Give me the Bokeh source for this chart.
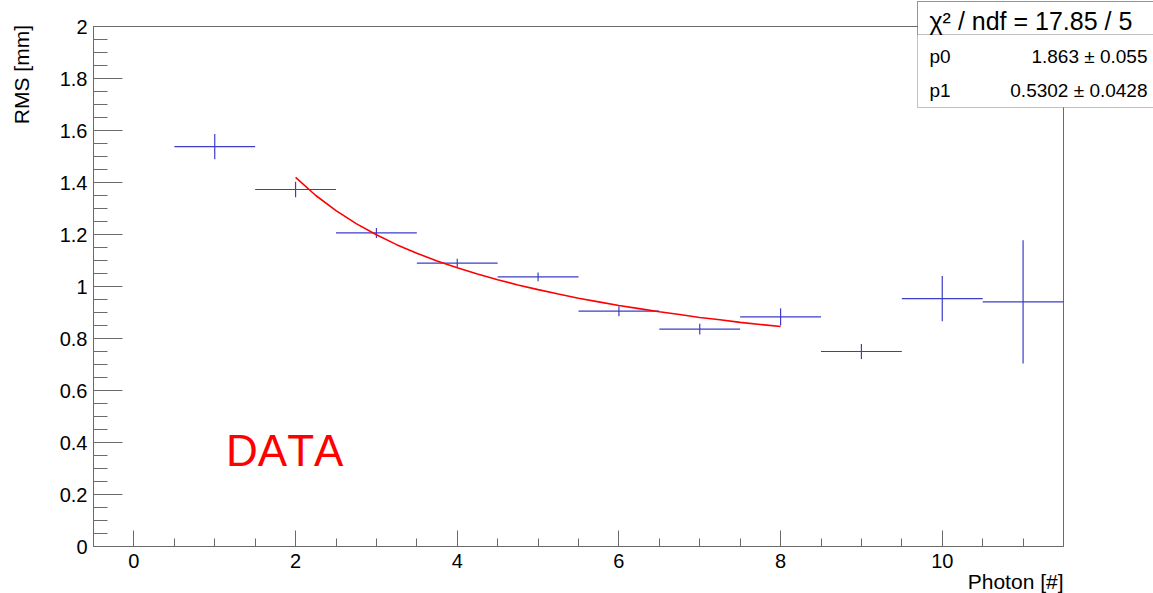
from bokeh.plotting import figure
from bokeh.models import (FixedTicker, Label, BoxAnnotation, Range1d,
                          GlobalInlineStyleSheet, ColumnDataSource)
from bokeh.embed import file_html
from bokeh.resources import INLINE

# ---------------- data ----------------
photons = [1, 2, 3, 4, 5, 6, 7, 8, 9, 10, 11]
bin_half_width = [0.5] * 11
rms = [1.538, 1.373, 1.206, 1.090, 1.037, 0.905, 0.836, 0.883, 0.750, 0.953, 0.941]
rms_err = [0.049, 0.030, 0.019, 0.017, 0.017, 0.019, 0.021, 0.033, 0.029, 0.087, 0.237]

# fit curve
fit_x = [2.0, 2.25, 2.5, 2.75, 3.0, 3.25, 3.5, 3.75, 4.0, 4.25, 4.5, 4.75, 5.0,
         5.25, 5.5, 5.75, 6.0, 6.25, 6.5, 6.75, 7.0, 7.25, 7.5, 7.75, 8.0]
fit_y = [1.420, 1.350, 1.292, 1.242, 1.199, 1.161, 1.128, 1.098, 1.072, 1.048,
         1.026, 1.006, 0.988, 0.971, 0.955, 0.941, 0.927, 0.915, 0.903, 0.892,
         0.881, 0.872, 0.862, 0.854, 0.846]

stats_title = "\u03c7\u00b2 / ndf = 17.85 / 5"
param_names = ["p0", "p1"]
param_values = ["1.863 \u00b1 0.055", "0.5302 \u00b1 0.0428"]

x_ticks = [0, 2, 4, 6, 8, 10]
x_minor = [-0.5 + 0.5 * i for i in range(25)]
y_ticks = [0, 0.2, 0.4, 0.6, 0.8, 1.0, 1.2, 1.4, 1.6, 1.8, 2.0]
y_tick_labels = ["0", "0.2", "0.4", "0.6", "0.8", "1", "1.2", "1.4", "1.6", "1.8", "2"]
y_minor = [0.05 * i for i in range(41)]

# ---------------- layout ----------------
W, H = 1153, 593
FL, FR, FT, FB = 93, 1063, 26, 546          # ROOT frame edges in pixels
XMIN, XMAX, YMIN, YMAX = -0.5, 11.5, 0.0, 2.0
PPX = (FR - FL) / (XMAX - XMIN)
PPY = (FB - FT) / (YMAX - YMIN)


def dx(px):
    return XMIN + (px - FL) / PPX


def dy(py):
    return YMIN + (FB - py) / PPY


FONT = "Liberation Sans"
AXC = "#6a6a6a"

# bokeh frame = whole canvas; axes are pinned at the ROOT frame edges
p = figure(width=W, height=H, output_backend="svg", toolbar_location=None,
           x_range=Range1d(dx(0), dx(W)), y_range=Range1d(dy(H), dy(0)),
           min_border=0, min_border_left=0, min_border_right=0,
           min_border_top=0, min_border_bottom=0)
p.stylesheets = [GlobalInlineStyleSheet(
    css="body{margin:0;overflow:hidden;font-kerning:none;}")]
p.grid.visible = False
p.background_fill_color = "white"
p.border_fill_color = "white"
p.outline_line_color = None

for ax in (p.xaxis[0], p.yaxis[0]):
    ax.axis_line_color = AXC
    ax.major_tick_line_color = AXC
    ax.minor_tick_line_color = AXC
    ax.major_tick_out = 0
    ax.minor_tick_out = 0
    ax.major_label_text_font = FONT
    ax.major_label_text_font_size = "20px"
    ax.major_label_text_color = "black"

p.xaxis.fixed_location = YMIN
p.xaxis.bounds = (XMIN, XMAX)
p.xaxis.ticker = FixedTicker(ticks=x_ticks, minor_ticks=x_minor)
p.xaxis.major_tick_in = 16
p.xaxis.minor_tick_in = 8
p.xaxis.major_label_standoff = 7
p.xaxis.major_label_overrides = {t: str(t) for t in x_ticks}

p.yaxis.fixed_location = XMIN
p.yaxis.bounds = (YMIN, YMAX)
p.yaxis.ticker = FixedTicker(ticks=y_ticks, minor_ticks=y_minor)
p.yaxis.major_tick_in = 29
p.yaxis.minor_tick_in = 14
p.yaxis.major_label_standoff = 6
p.yaxis.major_label_overrides = {t: l for t, l in zip(y_ticks, y_tick_labels)}

# ROOT frame: top and right edges
p.segment(x0=[XMIN, XMAX], y0=[YMAX, YMIN], x1=[XMAX, XMAX], y1=[YMAX, YMAX],
          line_color=AXC, line_width=1)

# axis titles
p.add_layout(Label(x=XMAX, y=dy(580.5), text="Photon [#]", text_font=FONT,
                   text_font_size="21px", text_align="right",
                   text_baseline="middle", text_color="black"))
p.add_layout(Label(x=dx(21), y=dy(24.5), text="RMS [mm]", text_font=FONT,
                   text_font_size="21px", text_align="right", angle=1.5707963,
                   text_baseline="middle", text_color="black"))

# ---------------- data marks ----------------
src = ColumnDataSource(dict(
    x=photons, y=rms,
    x0=[x - w for x, w in zip(photons, bin_half_width)],
    x1=[x + w for x, w in zip(photons, bin_half_width)],
    y0=[y - e for y, e in zip(rms, rms_err)],
    y1=[y + e for y, e in zip(rms, rms_err)],
))
BLUE = "#3c3cc8"
p.segment(x0="x0", x1="x1", y0="y", y1="y", source=src, line_color=BLUE, line_width=1.2)
p.segment(x0="x", x1="x", y0="y0", y1="y1", source=src, line_color=BLUE, line_width=1.2)

p.line(fit_x, fit_y, line_color="#ff0000", line_width=1.6)

p.add_layout(Label(x=1.14, y=dy(450), text="DATA", text_color="#ff0000",
                   text_font=FONT, text_font_size="44px",
                   text_baseline="middle", text_align="left"))

# ---------------- stats box ----------------
BOX_L, BOX_R, BOX_T, BOX_SEP, BOX_B = 917, 1170, 1, 34, 107
p.add_layout(BoxAnnotation(left=dx(BOX_L), right=dx(BOX_R), top=dy(BOX_T), bottom=dy(BOX_B),
                           fill_color="white", fill_alpha=1.0,
                           line_color="#333333", line_width=1, level="overlay"))
p.add_layout(BoxAnnotation(left=dx(BOX_L), right=dx(BOX_R), top=dy(BOX_T), bottom=dy(BOX_SEP),
                           fill_alpha=0.0, line_color="#333333", line_width=1, level="overlay"))

p.add_layout(Label(x=dx(929), y=dy(20.5), text=stats_title, text_font=FONT,
                   text_font_size="25px", text_align="left",
                   text_baseline="middle", text_color="black", level="overlay"))
for i, (name, val) in enumerate(zip(param_names, param_values)):
    mid = [55.5, 89.5][i]
    p.add_layout(Label(x=dx(929), y=dy(mid), text=name, text_font=FONT,
                       text_font_size="19px", text_align="left",
                       text_baseline="middle", text_color="black", level="overlay"))
    p.add_layout(Label(x=dx(1147), y=dy(mid), text=val, text_font=FONT,
                       text_font_size="19px", text_align="right",
                       text_baseline="middle", text_color="black", level="overlay"))

open("out.html", "w").write(file_html(p, INLINE))
